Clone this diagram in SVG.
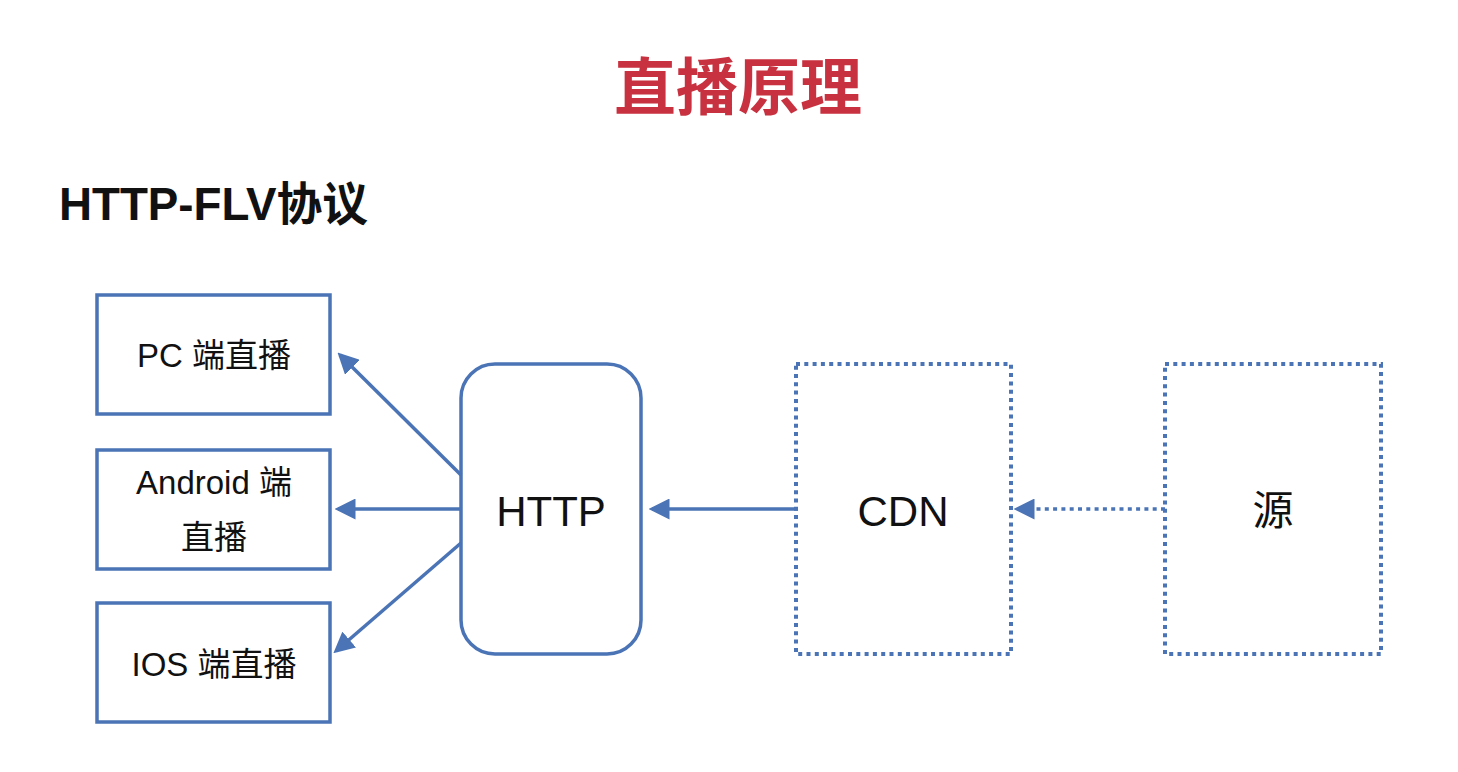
<svg xmlns="http://www.w3.org/2000/svg" width="1458" height="772" viewBox="0 0 1458 772">
<style>
.box{fill:#fff;stroke:#4a74b5;stroke-width:3.5}
.dot{fill:#fff;stroke:#4a74b5;stroke-width:4;stroke-dasharray:4 4.3}
.lbl{font-family:"Liberation Sans","Noto Sans CJK SC",sans-serif;fill:#111;text-anchor:middle}
.con{stroke:#4a74b5;stroke-width:3.5;fill:none}
</style>
<defs>
<marker id="ah" markerWidth="6" markerHeight="6" refX="5" refY="3" orient="auto" markerUnits="strokeWidth" viewBox="0 0 6 6">
<path d="M0,0 L6,3 L0,6 Z" fill="#4a74b5"/>
</marker>
</defs>
<rect width="1458" height="772" fill="#fff"/>
<text x="738" y="110" font-family="'Noto Sans CJK SC',sans-serif" font-weight="bold" font-size="62" fill="#c8313f" text-anchor="middle">直播原理</text>
<text x="59" y="220" font-family="'Liberation Sans','Noto Sans CJK SC',sans-serif" font-weight="bold" font-size="46" fill="#111" textLength="309" lengthAdjust="spacingAndGlyphs">HTTP-FLV协议</text>
<g id="pc"><rect class="box" x="97" y="295" width="233" height="119"/><text class="lbl" x="214" y="367" font-size="33">PC 端直播</text></g>
<g id="android"><rect class="box" x="97" y="450" width="233" height="119"/><text class="lbl" x="214" y="494" font-size="33">Android 端</text><text class="lbl" x="214" y="549" font-size="33">直播</text></g>
<g id="ios"><rect class="box" x="97" y="603" width="233" height="119"/><text class="lbl" x="214" y="676" font-size="33">IOS 端直播</text></g>
<g id="http"><rect class="box" x="461" y="364" width="180" height="290" rx="34"/><text class="lbl" x="551" y="526" font-size="42">HTTP</text></g>
<g id="cdn"><rect class="dot" x="796" y="364" width="215" height="290"/><text class="lbl" x="903" y="526" font-size="42">CDN</text></g>
<g id="src"><rect class="dot" x="1165" y="364" width="216" height="290"/><text class="lbl" x="1273" y="525" font-size="41">源</text></g>
<g id="connectors">
<line class="con" x1="461" y1="475" x2="340" y2="355" marker-end="url(#ah)"/>
<line class="con" x1="461" y1="509" x2="338" y2="509" marker-end="url(#ah)"/>
<line class="con" x1="461" y1="543" x2="336" y2="651" marker-end="url(#ah)"/>
<line class="con" x1="798" y1="509" x2="652" y2="509" marker-end="url(#ah)"/>
<line class="con" x1="1165" y1="509" x2="1017" y2="509" stroke-dasharray="4 4.3" marker-end="url(#ah)"/>
</g>
</svg>
